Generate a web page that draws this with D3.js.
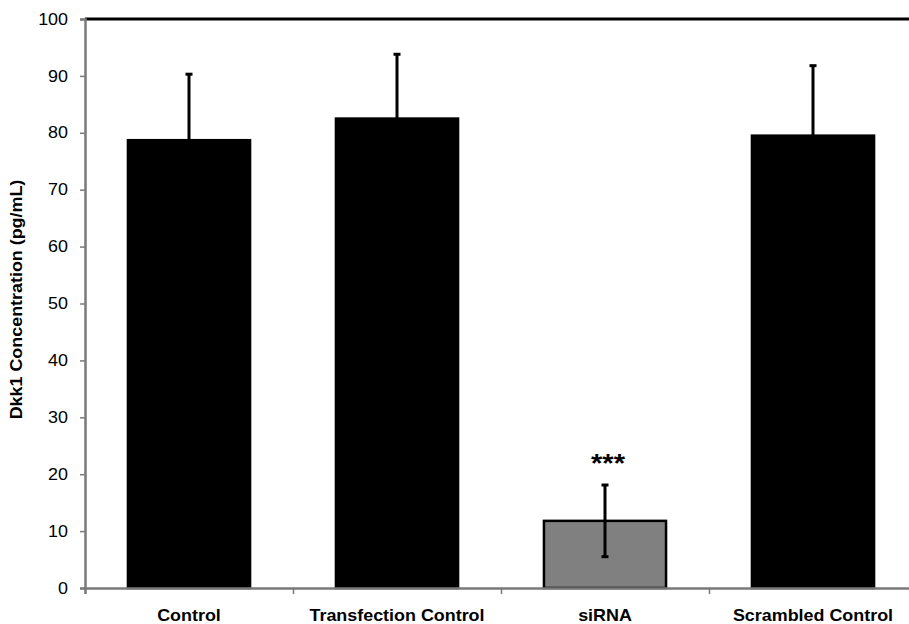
<!DOCTYPE html>
<html>
<head>
<meta charset="utf-8">
<script src="https://cdn.jsdelivr.net/npm/d3@7"></script>
<style>
  body { margin: 0; background: #fff; }
  text { font-family: "Liberation Sans", Arial, sans-serif; }
</style>
</head>
<body>
<svg id="chart"></svg>
<script>
const categories = ["Control", "Transfection Control", "siRNA", "Scrambled Control"];
const means = [78.7, 82.5, 11.8, 79.5];
const errors = [11.6, 11.3, 6.3, 12.3];
const barColors = ["#000000", "#000000", "#808080", "#000000"];
const yTicks = [0, 10, 20, 30, 40, 50, 60, 70, 80, 90, 100];
const yLabel = "Dkk1 Concentration (pg/mL)";
const marker = "***";

const W = 909, H = 624;
const plotLeft = 85, plotTop = 19, plotBottom = 588, plotRight = 917;
const sx = 1.12; // text in the picture is a bit wide

const svg = d3.select("#chart").attr("width", W).attr("height", H);

const x = d3.scaleBand()
    .domain(categories)
    .range([plotLeft, plotRight])
    .paddingInner(0.413)
    .paddingOuter(0.2065);

// boundaries between categories
const xb = d3.scaleLinear().domain([0, categories.length]).range([plotLeft, plotRight]);

const y = d3.scaleLinear().domain([0, 100]).range([plotBottom, plotTop]);

// top frame line
svg.append("line")
    .attr("x1", plotLeft).attr("x2", plotRight)
    .attr("y1", y(100)).attr("y2", y(100))
    .attr("stroke", "#000").attr("stroke-width", 3);

// bars
svg.selectAll("rect.bar")
    .data(categories)
    .join("rect")
    .attr("class", "bar")
    .attr("x", d => x(d))
    .attr("width", x.bandwidth())
    .attr("y", (d, i) => y(means[i]))
    .attr("height", (d, i) => y(0) - y(means[i]))
    .attr("fill", (d, i) => barColors[i])
    .attr("stroke", "#000")
    .attr("stroke-width", 2.5);

// error bars
const eb = svg.append("g").attr("stroke", "#000").attr("stroke-width", 3);
categories.forEach((c, i) => {
    const cx = x(c) + x.bandwidth() / 2;
    eb.append("line")
        .attr("x1", cx).attr("x2", cx)
        .attr("y1", y(means[i] - errors[i])).attr("y2", y(means[i] + errors[i]));
    [means[i] - errors[i], means[i] + errors[i]].forEach(v => {
        eb.append("line")
            .attr("x1", cx - 3.5).attr("x2", cx + 3.5)
            .attr("y1", y(v)).attr("y2", y(v));
    });
});

// y axis
const yAxis = svg.append("g")
    .attr("transform", `translate(${plotLeft},0)`)
    .call(d3.axisLeft(y).tickValues(yTicks).tickSize(5).tickPadding(12));
yAxis.select(".domain").attr("stroke", "#7a7a7a").attr("stroke-width", 2.5);
yAxis.selectAll(".tick line").attr("stroke", "#7a7a7a").attr("stroke-width", 1.5);
yAxis.selectAll(".tick text")
    .attr("font-size", 16)
    .attr("fill", "#000")
    .attr("font-family", "Liberation Sans, Arial, sans-serif")
    .attr("x", -17 / sx)
    .attr("transform", `scale(${sx},1)`);

// x axis
const xAxis = svg.append("g")
    .attr("transform", `translate(0,${plotBottom})`)
    .call(d3.axisBottom(xb).ticks(categories.length).tickSize(6).tickFormat(""));
xAxis.select(".domain").attr("stroke", "#7a7a7a").attr("stroke-width", 2.5);
xAxis.selectAll(".tick line").attr("stroke", "#7a7a7a").attr("stroke-width", 1.5);

// category labels
svg.selectAll("text.cat")
    .data(categories)
    .join("text")
    .attr("class", "cat")
    .attr("text-anchor", "middle")
    .attr("font-size", 16)
    .attr("font-weight", "bold")
    .attr("transform", d => `translate(${x(d) + x.bandwidth() / 2},620.5) scale(${sx},1)`)
    .text(d => d);

// y label
svg.append("text")
    .attr("text-anchor", "middle")
    .attr("font-size", 16)
    .attr("font-weight", "bold")
    .attr("transform", `translate(22,${(plotTop + plotBottom) / 2 - 4}) rotate(-90) scale(${sx},1)`)
    .text(yLabel);

// significance marker over siRNA
const si = categories.indexOf("siRNA");
svg.append("text")
    .attr("text-anchor", "middle")
    .attr("font-size", 26)
    .attr("font-weight", "bold")
    .attr("transform", `translate(${x(categories[si]) + x.bandwidth() / 2 + 3},${y(means[si] + errors[si]) - 13}) scale(${sx},1)`)
    .text(marker);
</script>
</body>
</html>
